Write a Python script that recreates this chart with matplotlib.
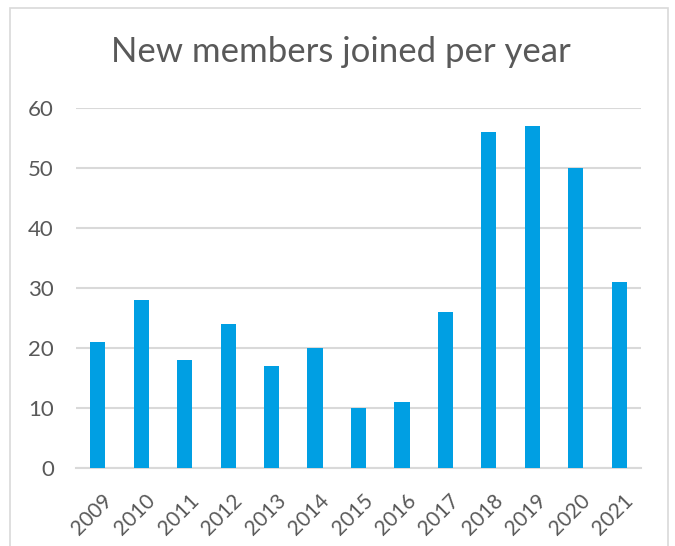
import matplotlib
matplotlib.use("Agg")
import matplotlib.pyplot as plt
import matplotlib.transforms as mtransforms
from matplotlib.patches import Rectangle

# data
years = ["2009", "2010", "2011", "2012", "2013", "2014", "2015",
         "2016", "2017", "2018", "2019", "2020", "2021"]
members = [21, 28, 18, 24, 17, 20, 10, 11, 26, 56, 57, 50, 31]
yticks = [0, 10, 20, 30, 40, 50, 60]

plt.rcParams['font.family'] = ['Lato', 'DejaVu Sans']
txt = '#595959'
grid = '#D9D9D9'

fig = plt.figure(figsize=(6.75, 5.46), dpi=100)
ax = fig.add_axes([76/675, 1 - 468/546, (641 - 76)/675, (468 - 108)/546])

x = range(len(years))
ax.bar(x, members, width=0.35, color='#009FE3', zorder=3)

ax.set_xlim(-0.5, len(years) - 0.5)
ax.set_ylim(0, 60)
ax.set_yticks(yticks)
ax.set_yticklabels([str(v) for v in yticks], color=txt, fontsize=16)
ax.set_xticks(list(x))
ax.set_xticklabels(years, rotation=45, ha='right', va='top',
                   rotation_mode='anchor', color=txt, fontsize=15)
ax.tick_params(axis='both', length=0)
ax.tick_params(axis='y', pad=16)
ax.tick_params(axis='x', pad=16)
# nudge rotated year labels a bit right, like the original
shift = mtransforms.ScaledTranslation(4/100, 0, fig.dpi_scale_trans)
for lab in ax.get_xticklabels():
    lab.set_transform(lab.get_transform() + shift)

ax.yaxis.grid(True, color=grid, linewidth=1.5, zorder=0)
for s in ['top', 'right', 'left']:
    ax.spines[s].set_visible(False)
ax.spines['bottom'].set_color(grid)
ax.spines['bottom'].set_linewidth(1.5)

fig.text(341/675, 1 - 52/546, "New members joined per year", ha='center',
         va='center', fontsize=25, color=txt)

# chart border
fig.patches.append(Rectangle((10/675, -0.02), 658/675, 1 - 8/546 + 0.02,
                             transform=fig.transFigure, fill=False,
                             edgecolor=grid, linewidth=1.2))

fig.savefig("out.png", dpi=100)
